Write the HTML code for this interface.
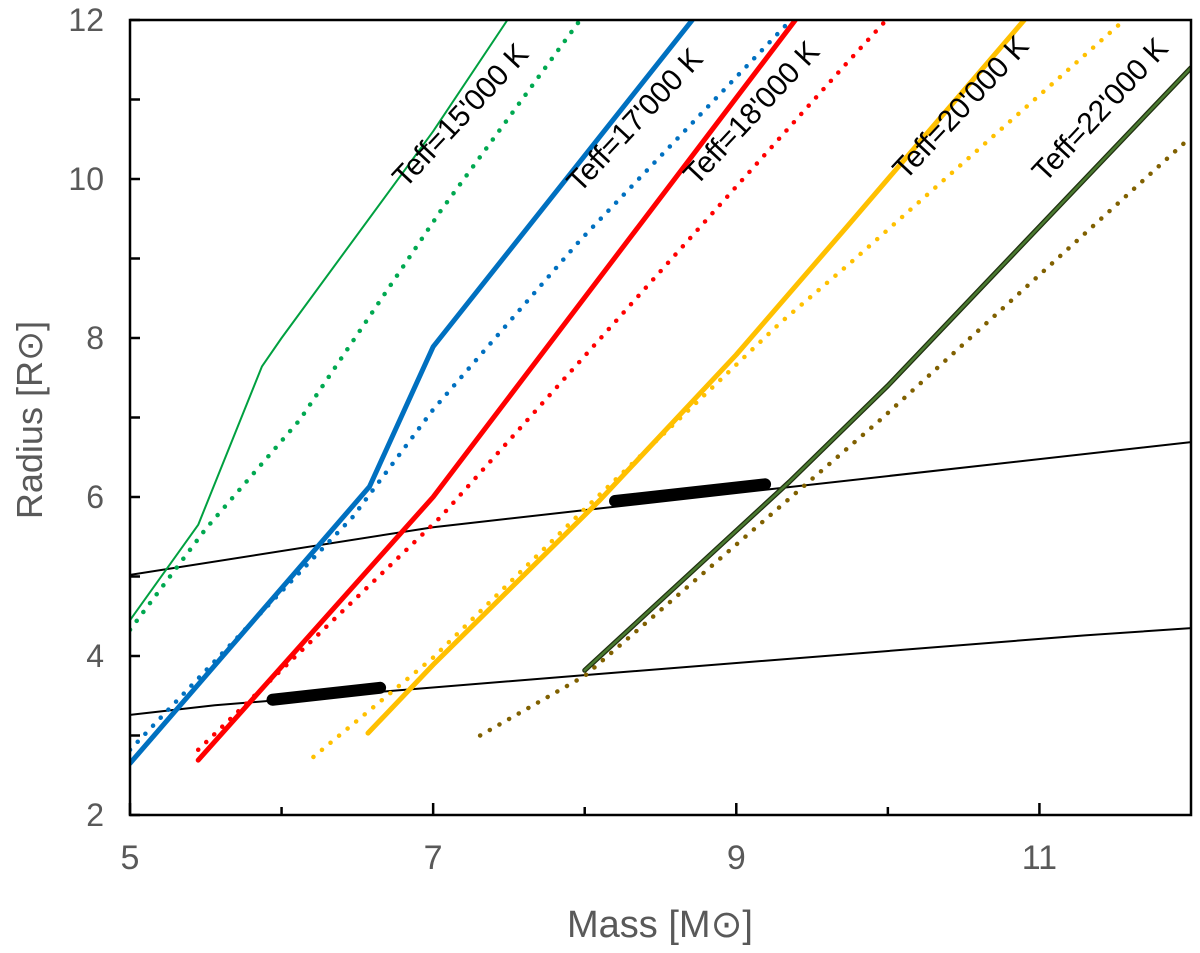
<!DOCTYPE html>
<html><head><meta charset="utf-8"><style>
body{margin:0;background:#fff;width:1200px;height:948px;overflow:hidden}
text{font-family:"Liberation Sans Narrow","Liberation Sans",sans-serif}
</style></head><body>
<svg id="chart" width="1200" height="948" xmlns="http://www.w3.org/2000/svg"></svg>
<script>
const xTicks=[5,7,9,11];
const xMinor=[6,8,10];
const yTicks=[2,4,6,8,10,12];
const yMinor=[3,5,7,9,11];
const green15=[[5,4.45],[5.45,5.65],[5.87,7.64],[6,8],[7,10.6],[7.49,12]];
const green15dot=[[5,4.33],[5.5,5.6],[6.12,6.97],[7.05,9.6],[7.97,12]];
const blue17=[[5,2.65],[6.58,6.13],[7,7.89],[8.71,12]];
const blue17dot=[[5,2.82],[6.47,5.75],[7,7.1],[7.97,9.23],[9.36,12]];
const red18=[[5.45,2.69],[7,6.0],[9.39,12]];
const red18dot=[[5.45,2.82],[7.05,5.75],[9.73,11.46],[9.99,12]];
const yel20=[[6.57,3.03],[7,3.89],[8.1,5.96],[9,7.79],[9.73,9.4],[10.9,12]];
const yel20dot=[[6.21,2.73],[7,3.98],[8,5.85],[9.29,8.19],[9.75,8.94],[11.56,12]];
const dg22=[[8,3.82],[9.35,6.19],[10,7.4],[12,11.4]];
const br22dot=[[7.31,3.0],[8,3.75],[9.95,6.97],[12,10.53]];
const blackUp=[[5,5.02],[7,5.62],[9,6.05],[12,6.69]];
const blackLow=[[5,3.26],[5.56,3.38],[8,3.76],[11.3,4.26],[12,4.35]];
const thickLow=[[5.94,3.45],[6.65,3.6]];
const thickUp=[[8.2,5.95],[9.19,6.16]];
const labels=["Teff=15'000 K","Teff=17'000 K","Teff=18'000 K","Teff=20'000 K","Teff=22'000 K"];
const labelPos=[[7.18,10.8],[8.33,10.74],[9.1,10.83],[10.48,10.9],[11.4,10.87]];

const X0=130,X1=1191,Y0=815,Y1=20;
const sx=m=>X0+(m-5)/7*(X1-X0);
const sy=r=>Y0-(r-2)/10*(Y0-Y1);
const svg=document.getElementById('chart');
const NS='http://www.w3.org/2000/svg';
function mk(t,a,p){const e=document.createElementNS(NS,t);for(const k in a)e.setAttribute(k,a[k]);(p||svg).appendChild(e);return e;}
const clip=mk('clipPath',{id:'c'});mk('rect',{x:X0,y:Y1,width:X1-X0,height:Y0-Y1},clip);
const g=mk('g',{'clip-path':'url(#c)'});
function line(d,col,w,dash,name){
 const e=mk('polyline',{points:d.map(p=>sx(p[0])+','+sy(p[1])).join(' '),fill:'none',stroke:col,'stroke-width':w,'stroke-linecap':'round','stroke-linejoin':'round'},g);
 if(dash)e.setAttribute('stroke-dasharray',dash);
 
 
}
line(blackUp,'#000',2,null,'upper-black-curve');
line(blackLow,'#000',2,null,'lower-black-curve');
line(green15,'#00a040',2,null,'teff15000-solid');
line(green15dot,'#00a850',4.5,'0.1 11','teff15000-dotted');
line(blue17dot,'#0070c0',4.5,'0.1 11','teff17000-dotted');
line(blue17,'#0070c0',5,null,'teff17000-solid');
line(red18dot,'#ff0000',4.5,'0.1 11','teff18000-dotted');
line(red18,'#ff0000',5,null,'teff18000-solid');
line(yel20dot,'#ffc000',4.5,'0.1 11','teff20000-dotted');
line(yel20,'#ffc000',5,null,'teff20000-solid');
line(br22dot,'#806000',4.5,'0.1 11','teff22000-dotted');
line(dg22,'#203010',5,null,'teff22000-solid-border');
line(dg22,'#4a7a30',2.5,null,'teff22000-solid');
line(thickLow,'#000',12,null,'lower-thick-segment');
line(thickUp,'#000',12,null,'upper-thick-segment');
labels.forEach((t,i)=>{
 const cx=sx(labelPos[i][0]),cy=sy(labelPos[i][1]);
 const e=mk('text',{x:cx,y:cy+10,'font-size':30,'text-anchor':'middle',style:'font-family:"Liberation Sans",sans-serif',transform:`rotate(-47 ${cx} ${cy})`});
 e.textContent=t;
 
 
});
const fr=mk('rect',{x:X0,y:Y1,width:X1-X0,height:Y0-Y1,fill:'none',stroke:'#000','stroke-width':2.5});

yTicks.forEach(v=>{mk('line',{x1:X0,x2:X0+10,y1:sy(v),y2:sy(v),stroke:'#000','stroke-width':2.5});
 const t=mk('text',{x:104,y:sy(v)+11,'font-size':32,fill:'#595959','text-anchor':'end'});t.textContent=v;
 });
yMinor.forEach(v=>mk('line',{x1:X0,x2:X0+10,y1:sy(v),y2:sy(v),stroke:'#000','stroke-width':2.5}));
xTicks.forEach(v=>{mk('line',{x1:sx(v),x2:sx(v),y1:Y0,y2:Y0-12,stroke:'#000','stroke-width':2.5});
 const t=mk('text',{x:sx(v),y:869,'font-size':34,fill:'#595959','text-anchor':'middle'});t.textContent=v;
 });
xMinor.forEach(v=>mk('line',{x1:sx(v),x2:sx(v),y1:Y0,y2:Y0-8,stroke:'#000','stroke-width':2.5}));
const xt=mk('text',{x:660,y:937,'font-size':38,fill:'#595959','text-anchor':'middle'});xt.textContent='Mass [M\u2299]';

const yt=mk('text',{x:42,y:420,'font-size':36,fill:'#595959','text-anchor':'middle',transform:'rotate(-90 42 420)'});yt.textContent='Radius [R\u2299]';

</script>
</body></html>
